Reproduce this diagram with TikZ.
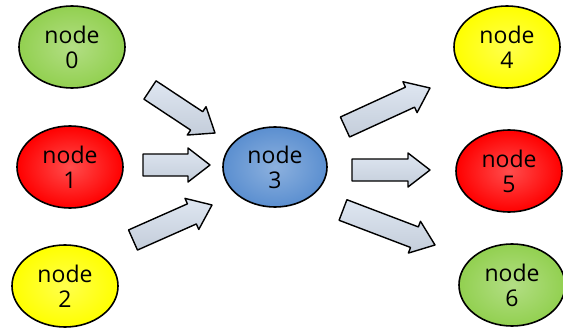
\documentclass[tikz,border=0pt]{standalone}
\usepackage{fontspec}
\setmainfont{Open Sans}
\usetikzlibrary{shapes.geometric,calc}
\definecolor{ngreen}{HTML}{92D050}
\definecolor{nred}{HTML}{FF0000}
\definecolor{nyellow}{HTML}{FFFF00}
\definecolor{nblue}{HTML}{5B8FD0}
\definecolor{arrfill}{HTML}{C9D6E8}
\tikzset{
  ball/.style={ellipse, draw=black, line width=1.6pt, inner sep=0pt,
    minimum width=106pt, minimum height=82pt, align=center,
    font=\fontsize{23}{25}\selectfont, text=black,
    inner color=#1!70!white, outer color=#1},
  barrow/.style={draw=black, line width=1.4pt, line join=round,
    top color=arrfill!60!white, bottom color=arrfill!90!black!80}
}
\newcommand\blockarrow[2]{%
  \draw[barrow]
    ($(#1)!11pt!90:(#2)$) --
    ($(#2)!22pt!(#1)!11pt!-90:(#1)$) --
    ($(#2)!22pt!(#1)!17pt!-90:(#1)$) --
    (#2) --
    ($(#2)!22pt!(#1)!17pt!90:(#1)$) --
    ($(#2)!22pt!(#1)!11pt!90:(#1)$) --
    ($(#1)!11pt!-90:(#2)$) -- cycle;}
\begin{document}
\begin{tikzpicture}[x=1pt,y=1pt]
\useasboundingbox (0,0) rectangle (563,333);
\fill[white] (0,0) rectangle (563,333);
\node[ball=ngreen]  (n0) at (72,286)  {node\\0};
\node[ball=nred]    (n1) at (70,166)  {node\\1};
\node[ball=nyellow] (n2) at (65,47)   {node\\2};
\node[ball=nblue, minimum width=104pt, minimum height=80pt] (n3) at (275,166) {node\\3};
\node[ball=nyellow] (n4) at (507,286) {node\\4};
\node[ball=nred]    (n5) at (509,162) {node\\5};
\node[ball=ngreen]  (n6) at (512,48)  {node\\6};
\coordinate (t0) at (150,243); \coordinate (h0) at (215,200);
\coordinate (t1) at (143,168); \coordinate (h1) at (210,168);
\coordinate (t2) at (133,93);  \coordinate (h2) at (212,128);
\coordinate (t4) at (345,206); \coordinate (h4) at (430,245);
\coordinate (t5) at (352,163); \coordinate (h5) at (430,163);
\coordinate (t6) at (343,123); \coordinate (h6) at (435,88);
\blockarrow{t0}{h0}
\blockarrow{t1}{h1}
\blockarrow{t2}{h2}
\blockarrow{t4}{h4}
\blockarrow{t5}{h5}
\blockarrow{t6}{h6}
\end{tikzpicture}
\end{document}
